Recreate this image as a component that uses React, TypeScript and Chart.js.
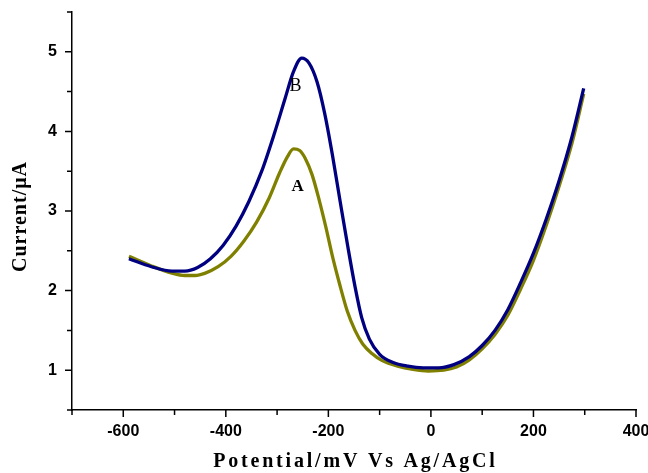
import { useEffect, useRef } from 'react';
import { Chart, registerables } from 'chart.js';

Chart.register(...registerables);

// Curve A (olive)
const potentialA = [-589, -545, -505, -480, -460, -440, -415, -390, -365, -340, -315, -295, -280, -268, -256, -245, -232, -218, -205, -192, -178, -163, -148, -133, -115, -95, -65, -35, -5, 25, 50, 75, 100, 125, 150, 175, 200, 225, 250, 275, 298];
const currentA = [2.43, 2.31, 2.22, 2.19, 2.19, 2.22, 2.30, 2.43, 2.62, 2.86, 3.17, 3.48, 3.68, 3.78, 3.76, 3.66, 3.46, 3.14, 2.80, 2.43, 2.08, 1.74, 1.50, 1.33, 1.21, 1.12, 1.05, 1.01, 0.99, 1.00, 1.04, 1.13, 1.27, 1.45, 1.69, 2.02, 2.38, 2.82, 3.31, 3.85, 4.47];

// Curve B (navy)
const potentialB = [-589, -545, -505, -480, -455, -430, -405, -380, -355, -330, -305, -285, -268, -252, -238, -222, -207, -192, -177, -162, -148, -135, -120, -100, -75, -45, -15, 15, 45, 75, 100, 125, 150, 175, 200, 225, 250, 275, 298];
const currentB = [2.40, 2.30, 2.245, 2.245, 2.29, 2.40, 2.57, 2.81, 3.12, 3.50, 3.98, 4.40, 4.75, 4.92, 4.86, 4.62, 4.22, 3.70, 3.12, 2.55, 2.05, 1.66, 1.39, 1.20, 1.10, 1.05, 1.03, 1.03, 1.07, 1.17, 1.31, 1.50, 1.76, 2.10, 2.47, 2.90, 3.38, 3.93, 4.54];

const seriesLabels = ['A', 'B'];
const xRange = [-700, 400];
const yRange = [0.5, 5.5];
const xTitle = 'Potential/mV Vs Ag/AgCl';
const yTitle = 'Current/\u03bcA';
// curve labels placed at data coordinates
const labelA = { text: 'A', x: -260, y: 3.31 };
const labelB = { text: 'B', x: -264, y: 4.57 };

const tickPlugin = {
  id: 'customTicks',
  afterDraw(chart: any) {
    const ctx = chart.ctx;
    const xs = chart.scales.x;
    const ys = chart.scales.y;
    ctx.save();
    ctx.strokeStyle = '#000';
    ctx.lineWidth = 1.5;
    ctx.beginPath();
    xs.ticks.forEach((t: any) => {
      const p = xs.getPixelForValue(t.value);
      const len = t.value % 200 === 0 ? 7 : 5;
      ctx.moveTo(p, xs.top);
      ctx.lineTo(p, xs.top + len);
    });
    ys.ticks.forEach((t: any) => {
      const p = ys.getPixelForValue(t.value);
      const len = Number.isInteger(t.value) ? 7 : 5;
      ctx.moveTo(ys.right, p);
      ctx.lineTo(ys.right - len, p);
    });
    ctx.stroke();

    // axis titles
    ctx.fillStyle = '#000';
    ctx.textAlign = 'center';
    ctx.textBaseline = 'middle';
    ctx.font = 'bold 20px "Liberation Serif"';
    (ctx as any).letterSpacing = '2.8px';
    const cx = (chart.chartArea.left + chart.chartArea.right) / 2;
    ctx.fillText(xTitle, cx + 1.4, chart.height - 11);
    (ctx as any).letterSpacing = '1px';
    ctx.save();
    ctx.translate(21, (chart.chartArea.top + chart.chartArea.bottom) / 2 + 6);
    ctx.rotate(-Math.PI / 2);
    ctx.fillText(yTitle, 0.5, 0);
    ctx.restore();
    (ctx as any).letterSpacing = '0px';

    // curve labels
    ctx.font = '18px "Liberation Serif"';
    ctx.fillText(labelB.text, xs.getPixelForValue(labelB.x), ys.getPixelForValue(labelB.y));
    ctx.font = 'bold 17px "Liberation Serif"';
    ctx.fillText(labelA.text, xs.getPixelForValue(labelA.x), ys.getPixelForValue(labelA.y));
    ctx.restore();
  },
};

export default function App() {
  const ref = useRef<HTMLCanvasElement>(null);
  useEffect(() => {
    const canvas = ref.current;
    if (!canvas) return;
    const chart = new Chart(canvas, {
      type: 'line',
      data: {
        datasets: [
          {
            label: seriesLabels[0],
            data: potentialA.map((x, i) => ({ x, y: currentA[i] })),
            borderColor: '#808000',
            borderWidth: 3.3,
            pointRadius: 0,
            cubicInterpolationMode: 'monotone',
            fill: false,
            order: 1,
          },
          {
            label: seriesLabels[1],
            data: potentialB.map((x, i) => ({ x, y: currentB[i] })),
            borderColor: '#000080',
            borderWidth: 3.3,
            pointRadius: 0,
            cubicInterpolationMode: 'monotone',
            fill: false,
            order: 0,
          },
        ],
      },
      options: {
        responsive: false,
        animation: false,
        layout: { padding: { top: 12, right: 12, left: 0, bottom: 0 } },
        plugins: { legend: { display: false }, tooltip: { enabled: false } },
        scales: {
          x: {
            type: 'linear',
            min: xRange[0],
            max: xRange[1],
            grid: { display: false, drawTicks: false },
            border: { display: true, color: '#000', width: 1.5 },
            ticks: {
              stepSize: 100,
              autoSkip: false,
              maxRotation: 0,
              padding: 12,
              color: '#000',
              font: { family: '"Liberation Sans"', size: 16, weight: 'bold' },
              callback: (v: any) => (Number(v) % 200 === 0 ? String(v) : ''),
            },
            afterFit: (s: any) => {
              s.height = 63;
              s.paddingLeft = 0;
              s.paddingRight = 0;
            },
          },
          y: {
            type: 'linear',
            min: yRange[0],
            max: yRange[1],
            grid: { display: false, drawTicks: false },
            border: { display: true, color: '#000', width: 1.5 },
            ticks: {
              stepSize: 0.5,
              autoSkip: false,
              padding: 15,
              color: '#000',
              font: { family: '"Liberation Sans"', size: 16, weight: 'bold' },
              callback: (v: any) => (Number.isInteger(Number(v)) ? String(v) : ''),
            },
            afterFit: (s: any) => {
              s.width = 72;
              s.paddingTop = 0;
              s.paddingBottom = 0;
            },
          },
        },
      },
      plugins: [tickPlugin],
    });
    return () => chart.destroy();
  }, []);
  return (
    <div style={{ position: 'fixed', left: 0, top: 0, width: 648, height: 473, background: '#fff' }}>
      <canvas ref={ref} width={648} height={473} style={{ display: 'block' }} />
    </div>
  );
}
